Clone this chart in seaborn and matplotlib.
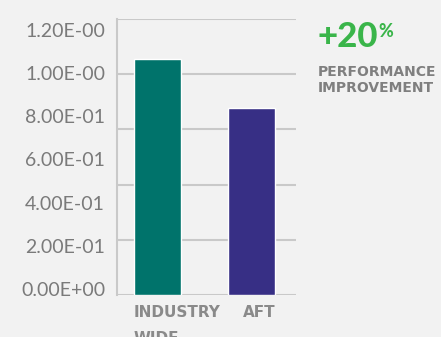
import matplotlib
matplotlib.use("Agg")
import matplotlib.pyplot as plt
import seaborn as sns
import pandas as pd
import numpy as np

categories = ["INDUSTRY\nWIDE", "AFT"]
values = [1.066, 0.837]
colors = ["#00736b", "#372f85"]
tick_values = [0.0, 0.2, 0.4, 0.6, 0.8, 1.0, 1.2]
tick_labels = ["0.00E+00", "2.00E-01", "4.00E-01", "6.00E-01", "8.00E-01", "1.00E-00", "1.20E-00"]

bg = "#f2f2f2"
sns.set_theme(style="white")
plt.rcParams["font.family"] = ["DejaVu Sans"]

ymin, ymax = -0.028, 1.251

fig = plt.figure(figsize=(4.41, 3.37), dpi=100, facecolor=bg)
ax = fig.add_axes([0.265, 0.1246, 0.406, 0.819], facecolor=bg)

df = pd.DataFrame({"cat": categories, "val": values})
df["h"] = df["val"] - ymin
sns.barplot(data=df, x="cat", y="h", hue="cat", palette=colors, width=0.5,
            ax=ax, legend=False, saturation=1, bottom=ymin)

ax.set_ylim(ymin, ymax)
ax.set_xlim(-0.431, 1.473)
ax.set_yticks(tick_values)
ax.set_yticklabels(tick_labels, color="#7a7a7a", fontsize=14, fontweight="normal",
                   family=["Lato", "DejaVu Sans"])
ax.tick_params(axis="y", length=0, pad=8.5)
ax.set_xticks([])
ax.set_xlabel("")
ax.set_ylabel("")
for y in np.linspace(ymin, ymax, 6):
    ax.axhline(y, color="#c9c9c9", lw=1.5, zorder=0)
for s in ["top", "right", "bottom"]:
    ax.spines[s].set_visible(False)
ax.spines["left"].set_color("#c9c9c9")
ax.spines["left"].set_linewidth(1.5)

# category labels
ax.text(-0.25, -0.037, categories[0], ha="left", va="top", fontsize=11, fontweight="bold",
        color="#8a8a8a", linespacing=1.9, transform=ax.get_xaxis_transform())
ax.text(0.91, -0.037, categories[1], ha="left", va="top", fontsize=11, fontweight="bold",
        color="#8a8a8a", transform=ax.get_xaxis_transform())

# annotation
fig.text(0.721, 0.8605, "+20", fontsize=25, fontweight="black", color="#3ab54a", ha="left",
         va="baseline", family=["Lato", "DejaVu Sans"])
fig.text(0.859, 0.890, "%", fontsize=13, fontweight="black", color="#3ab54a", ha="left",
         va="baseline", family=["Lato", "DejaVu Sans"])
fig.text(0.721, 0.727, "PERFORMANCE\nIMPROVEMENT", fontsize=10, fontweight="bold", color="#7f7f7f",
         ha="left", va="baseline", linespacing=1.2)

fig.savefig("out.png", dpi=100, facecolor=bg)
